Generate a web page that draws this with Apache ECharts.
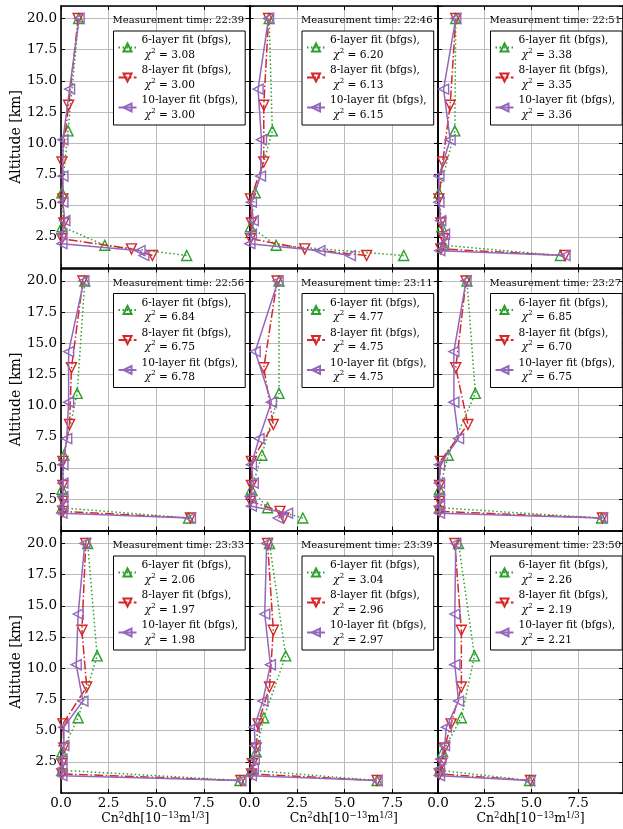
<!DOCTYPE html>
<html>
<head>
<meta charset="utf-8">
<script src="https://cdn.jsdelivr.net/npm/echarts@6/dist/echarts.min.js"></script>
<style>
  html, body { margin: 0; padding: 0; background: #fff; }
  #chart { width: 623px; height: 829px; }
</style>
</head>
<body>
<div id="chart"></div>
<script>
// Measurement times, one panel each (row by row)
const times = ['22:39', '22:46', '22:51', '22:56', '23:11', '23:27', '23:33', '23:39', '23:50'];

// Layer altitudes [km] for each fit
const altitudes6  = [1.00, 1.82, 3.31, 6.03, 10.99, 20.00];
const altitudes8  = [1.00, 1.53, 2.35, 3.61, 5.54, 8.50, 13.04, 20.00];
const altitudes10 = [1.00, 1.39, 1.95, 2.71, 3.79, 5.28, 7.37, 10.28, 14.34, 20.00];

// Cn2 dh per layer [1e-13 m^(1/3)], one row per measurement time
const fit6 = [
  [6.60, 2.30, 0.05, 0.05, 0.37, 0.93],   // 22:39
  [8.10, 1.40, 0.05, 0.30, 1.20, 1.03],   // 22:46
  [6.55, 0.30, 0.20, 0.05, 0.90, 0.95],   // 22:51
  [6.70, 0.05, 0.05, 0.15, 0.85, 1.25],   // 22:56
  [2.80, 0.95, 0.10, 0.65, 1.55, 1.55],   // 23:11
  [8.75, 0.08, 0.08, 0.55, 2.00, 1.55],   // 23:27
  [9.40, 0.05, 0.05, 0.90, 1.90, 1.40],   // 23:33
  [6.70, 0.10, 0.35, 0.75, 1.90, 1.05],   // 23:39
  [4.90, 0.08, 0.25, 1.25, 1.95, 1.10]    // 23:50
];
const fit8 = [
  [4.80, 3.70, 0.05, 0.15, 0.10, 0.05, 0.40, 0.90],   // 22:39
  [6.15, 2.90, 0.05, 0.10, 0.05, 0.75, 0.75, 1.00],   // 22:46
  [6.80, 0.15, 0.30, 0.15, 0.05, 0.25, 0.65, 0.95],   // 22:51
  [6.80, 0.10, 0.10, 0.10, 0.10, 0.45, 0.55, 1.15],   // 22:56
  [1.80, 1.60, 0.05, 0.10, 0.10, 1.25, 0.75, 1.45],   // 23:11
  [8.80, 0.08, 0.08, 0.08, 0.12, 1.60, 0.95, 1.50],   // 23:27
  [9.45, 0.05, 0.05, 0.15, 0.10, 1.35, 1.10, 1.30],   // 23:33
  [6.70, 0.10, 0.15, 0.35, 0.45, 1.05, 1.25, 0.95],   // 23:39
  [4.95, 0.08, 0.20, 0.35, 0.70, 1.25, 1.25, 0.90]    // 23:50
];
const fit10 = [
  [4.35, 4.15, 0.05, 0.05, 0.20, 0.10, 0.10, 0.10, 0.45, 0.95],   // 22:39
  [5.30, 3.70, 0.02, 0.10, 0.20, 0.10, 0.58, 0.63, 0.45, 1.00],   // 22:46
  [6.80, 0.10, 0.30, 0.35, 0.15, 0.05, 0.05, 0.65, 0.30, 0.95],   // 22:51
  [6.80, 0.05, 0.10, 0.10, 0.10, 0.10, 0.30, 0.40, 0.40, 1.20],   // 22:56
  [1.50, 2.00, 0.10, 0.05, 0.20, 0.10, 0.50, 1.15, 0.30, 1.50],   // 23:11
  [8.80, 0.08, 0.08, 0.08, 0.08, 0.08, 1.10, 0.85, 0.85, 1.50],   // 23:27
  [9.45, 0.05, 0.05, 0.05, 0.15, 0.15, 1.15, 0.80, 0.90, 1.25],   // 23:33
  [6.70, 0.10, 0.20, 0.25, 0.30, 0.25, 0.70, 1.10, 0.80, 0.90],   // 23:39
  [4.90, 0.08, 0.08, 0.15, 0.35, 0.45, 1.10, 0.90, 0.90, 0.95]    // 23:50
];

// Reduced chi-square of each fit
const chi6  = ['3.08', '6.20', '3.38', '6.84', '4.77', '6.85', '2.06', '3.04', '2.26'];
const chi8  = ['3.00', '6.13', '3.35', '6.75', '4.75', '6.70', '1.97', '2.96', '2.19'];
const chi10 = ['3.00', '6.15', '3.36', '6.78', '4.75', '6.75', '1.98', '2.97', '2.21'];

// Axis settings
const xMin = 0, xMax = 9.9, xStep = 2.5;
const yMin = 0, yMax = 21, yStep = 2.5;

// ---- layout and styling ----
const FONT = 'DejaVu Serif';
const W = 623;
const colLeft = [61, 249.5, 438];
const colW = 188.5;
const rowTop = [6, 268.5, 531];
const rowH = 262;

const fits = [
  { label: '6-layer fit (bfgs),',  alts: altitudes6,  vals: fit6,  chi: chi6,
    color: '#2ca02c', dash: [1.5, 2.5], rot: 0 },
  { label: '8-layer fit (bfgs),',  alts: altitudes8,  vals: fit8,  chi: chi8,
    color: '#d62728', dash: [9, 2.4, 1.5, 2.4], rot: 180 },
  { label: '10-layer fit (bfgs),', alts: altitudes10, vals: fit10, chi: chi10,
    color: '#9467bd', dash: 'solid', rot: 90 }
];

const spine = { show: true, onZero: false, lineStyle: { color: '#000', width: 1.6 } };
const ticksIn = { show: true, inside: true, length: 4, lineStyle: { color: '#000', width: 1 } };
const gridLine = { show: true, lineStyle: { color: '#bbbbbb', width: 1 } };
const tickFont = { fontFamily: FONT, fontSize: 13.5, color: '#000' };

const xName = '{m|Cn}{s|2}{m|dh[10}{s|\u221213}{m|m}{s|1/3}{m|]}';

const grids = [], xAxes = [], yAxes = [], series = [], legends = [], titles = [];
const legendText = {};

for (let p = 0; p < 9; p++) {
  const r = Math.floor(p / 3), c = p % 3;
  grids.push({ left: colLeft[c], top: rowTop[r], width: colW, height: rowH, containLabel: false });

  // bottom / top x axes
  xAxes.push({
    gridIndex: p, type: 'value', position: 'bottom', min: xMin, max: xMax, interval: xStep,
    axisLine: spine, axisTick: ticksIn, splitLine: gridLine,
    axisLabel: Object.assign({ show: r === 2, margin: 3, showMinLabel: true, showMaxLabel: false,
      formatter: v => v.toFixed(1) }, tickFont),
    name: r === 2 ? xName : '', nameLocation: 'middle', nameGap: 18,
    nameTextStyle: {
      color: '#000', fontFamily: FONT,
      rich: {
        m: { fontFamily: FONT, fontSize: 12.5, lineHeight: 16, color: '#000' },
        s: { fontFamily: FONT, fontSize: 8.5, lineHeight: 10, verticalAlign: 'top', color: '#000' }
      }
    }
  });
  xAxes.push({
    gridIndex: p, type: 'value', position: 'top', min: xMin, max: xMax, interval: xStep,
    axisLine: spine, axisTick: ticksIn, splitLine: { show: false }, axisLabel: { show: false }
  });

  // left / right y axes
  yAxes.push({
    gridIndex: p, type: 'value', position: 'left', min: yMin, max: yMax, interval: yStep,
    axisLine: spine, axisTick: ticksIn, splitLine: gridLine,
    axisLabel: Object.assign({ show: c === 0, margin: 4, showMinLabel: false, showMaxLabel: false,
      formatter: v => v.toFixed(1) }, tickFont),
    name: c === 0 ? 'Altitude [km]' : '', nameLocation: 'middle', nameGap: 37, nameRotate: 90,
    nameTextStyle: { fontFamily: FONT, fontSize: 14, color: '#000' }
  });
  yAxes.push({
    gridIndex: p, type: 'value', position: 'right', min: yMin, max: yMax, interval: yStep,
    axisLine: spine, axisTick: ticksIn, splitLine: { show: false }, axisLabel: { show: false }
  });

  const names = [];
  fits.forEach((f, fi) => {
    const name = f.label + ' \u03c7\u00b2 = ' + f.chi[p];
    names.push(name);
    legendText[name] = '{t|' + f.label + '}\n{t| }{c|\u03c7}{s|2}{t| = ' + f.chi[p] + '}';
    series.push({
      type: 'line', name: name,
      xAxisIndex: 2 * p, yAxisIndex: 2 * p,
      data: f.vals[p].map((x, i) => [x, f.alts[i]]),
      symbol: 'triangle', symbolSize: 10, symbolRotate: f.rot, showAllSymbol: true,
      lineStyle: { color: f.color, width: 1.5, type: f.dash },
      itemStyle: { color: 'rgba(255,255,255,0)', borderColor: f.color, borderWidth: 1.4 },
      emphasis: { disabled: true },
      z: 2 + fi,
      animation: false
    });
  });

  legends.push({
    data: names,
    orient: 'vertical',
    left: colLeft[c] + 52.5, top: rowTop[r] + 25,
    itemWidth: 18, itemHeight: 10, itemGap: 1,
    padding: [2, 7, 3, 4],
    backgroundColor: '#fff', borderColor: '#000', borderWidth: 1, borderRadius: 0,
    selectedMode: false,
    formatter: n => legendText[n],
    textStyle: {
      fontFamily: FONT, fontSize: 10.6, lineHeight: 14.5, color: '#000',
      rich: {
        t: { fontFamily: FONT, fontSize: 10.6, lineHeight: 14.5, color: '#000' },
        c: { fontFamily: FONT, fontSize: 10.6, lineHeight: 14.5, fontStyle: 'italic', color: '#000' },
        s: { fontFamily: FONT, fontSize: 7, lineHeight: 9, verticalAlign: 'top', color: '#000' }
      }
    }
  });

  titles.push({
    text: 'Measurement time: ' + times[p],
    right: W - (colLeft[c] + 183), top: rowTop[r] + 9.5, padding: 0,
    textStyle: { fontFamily: FONT, fontSize: 10, fontWeight: 'normal', color: '#000' }
  });
}

const chart = echarts.init(document.getElementById('chart'), null, { renderer: 'canvas' });
chart.setOption({
  animation: false,
  backgroundColor: '#fff',
  textStyle: { fontFamily: FONT },
  title: titles,
  legend: legends,
  grid: grids,
  xAxis: xAxes,
  yAxis: yAxes,
  series: series
});
</script>
</body>
</html>
